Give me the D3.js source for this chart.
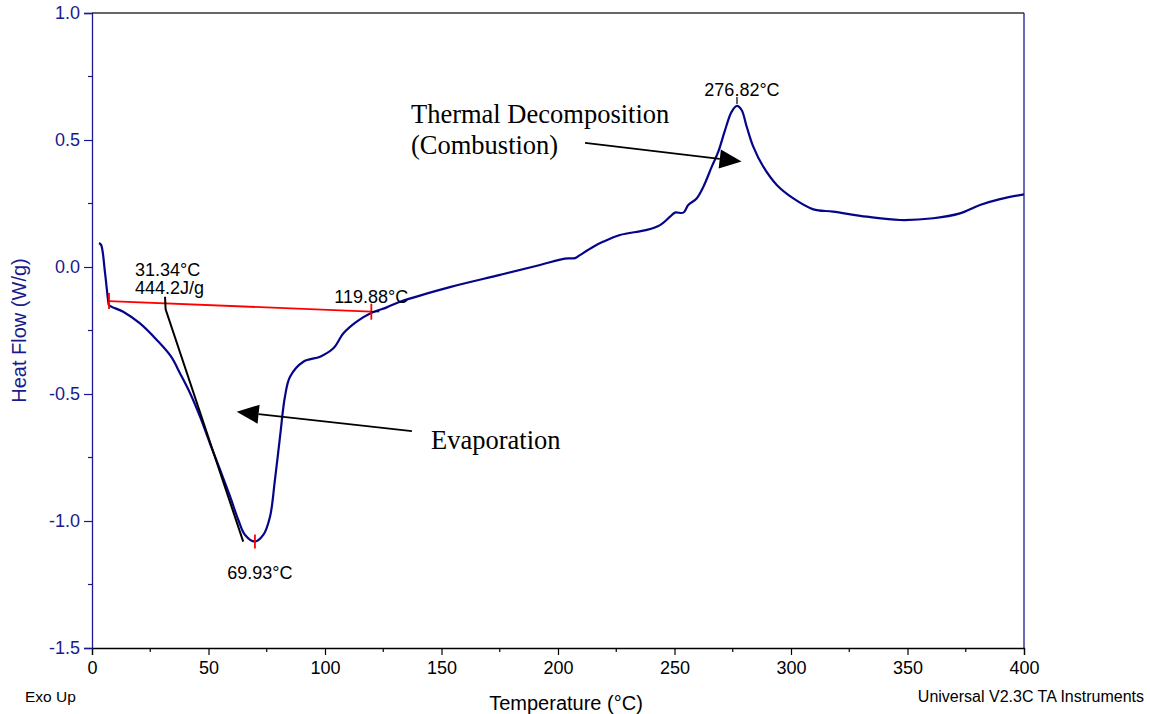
<!DOCTYPE html>
<html>
<head>
<meta charset="utf-8">
<script src="https://cdn.jsdelivr.net/npm/d3@7"></script>
<style>
  html, body { margin: 0; padding: 0; background: #fff; }
  svg { display: block; }
</style>
</head>
<body>
<svg id="chart" width="1150" height="714"></svg>
<script>
// DSC heat-flow trace: temperature (°C) and heat flow (W/g)
const temperature = [3.0, 3.9, 5.6, 7.0, 7.3, 13.4, 20.6, 27.8, 33.9, 37.8, 42.1, 46.4, 50.6, 55.0, 59.3, 62.8, 65.7,
  69.93, 73.5, 76.4, 78.5, 80.7, 82.8, 85.0, 90.7, 97.9, 103.6, 107.9, 113.6, 120.0, 126.5, 132.2, 153.6, 175.1,
  192.3, 203.0, 207.3, 209.4, 215.2, 219.5, 226.6, 238.1, 243.8, 248.1, 250.2, 253.8, 255.9, 259.5, 262.4, 266.0,
  268.8, 271.7, 274.5, 276.82, 278.8, 281.0, 283.8, 288.1, 293.9, 301.0, 309.6, 318.0, 332.5, 346.8, 361.1, 372.5,
  381.1, 389.7, 400.0];
const heatFlow = [0.094, 0.087, -0.024, -0.137, -0.150, -0.176, -0.222, -0.287, -0.352, -0.419, -0.497, -0.590,
  -0.694, -0.799, -0.904, -0.996, -1.055, -1.081, -1.055, -0.983, -0.839, -0.668, -0.511, -0.432, -0.373, -0.353,
  -0.320, -0.261, -0.215, -0.180, -0.159, -0.137, -0.079, -0.031, 0.008, 0.033, 0.035, 0.047, 0.080, 0.100, 0.126,
  0.146, 0.165, 0.198, 0.214, 0.214, 0.244, 0.270, 0.316, 0.395, 0.454, 0.539, 0.611, 0.634, 0.618, 0.552, 0.474,
  0.395, 0.323, 0.270, 0.227, 0.218, 0.198, 0.185, 0.192, 0.211, 0.244, 0.267, 0.286];

// Axis ticks
const xTicks = [0, 50, 100, 150, 200, 250, 300, 350, 400];
const xMinorTicks = [25, 75, 125, 175, 225, 275, 325, 375];
const yTicks = [-1.5, -1.0, -0.5, 0.0, 0.5, 1.0];
const yMinorTicks = [-1.25, -0.75, -0.25, 0.25, 0.75];

// Peak analysis results
const baselineT = [7.3, 119.88];
const baselineHF = [-0.134, -0.176];
const onsetT = [31.34, 31.6, 64.9];
const onsetHF = [-0.117, -0.167, -1.081];
const minPeak = { t: 69.93, hf: -1.081, label: "69.93°C" };
const maxPeak = { t: 276.82, hf: 0.634, label: "276.82°C" };
const onsetLabels = ["31.34°C", "444.2J/g"];
const endLabel = "119.88°C";

const W = 1150, H = 714;
const margin = { top: 13, right: 126, bottom: 66, left: 92 };
const iw = W - margin.left - margin.right;
const ih = H - margin.top - margin.bottom;

const navy = "#1a1a8e";
const curveColor = "#05058a";
const sans = "'Liberation Sans', Arial, sans-serif";
const serif = "'Liberation Serif', 'Times New Roman', serif";

const svg = d3.select("#chart");
const g = svg.append("g").attr("transform", `translate(${margin.left},${margin.top})`);

const x = d3.scaleLinear().domain([0, 400]).range([0, iw]);
const y = d3.scaleLinear().domain([-1.5, 1.0]).range([ih, 0]);

// Frame: top border and right axis
g.append("line").attr("x1", 0).attr("x2", iw).attr("y1", 0).attr("y2", 0)
  .attr("stroke", "#333").attr("stroke-width", 1.3);
g.append("line").attr("x1", iw).attr("x2", iw).attr("y1", 0).attr("y2", ih)
  .attr("stroke", navy).attr("stroke-width", 1.3);

// X axis
const xAxis = g.append("g").attr("transform", `translate(0,${ih})`)
  .call(d3.axisBottom(x).tickValues(xTicks).tickFormat(d3.format("d")).tickSize(7).tickPadding(6));
xAxis.select(".domain").attr("stroke", "#000").attr("stroke-width", 1.3);
xAxis.selectAll(".tick line").attr("stroke", "#000").attr("stroke-width", 1.2);
xAxis.selectAll(".tick text").attr("font-family", sans).attr("font-size", 18).attr("fill", "#000");
g.append("g").attr("transform", `translate(0,${ih})`)
  .selectAll("line").data(xMinorTicks).join("line")
  .attr("x1", d => x(d)).attr("x2", d => x(d)).attr("y1", 0).attr("y2", 4)
  .attr("stroke", "#000").attr("stroke-width", 1.2);

// Y axis
const yAxis = g.append("g")
  .call(d3.axisLeft(y).tickValues(yTicks).tickFormat(d => d.toFixed(1)).tickSize(8).tickPadding(4));
yAxis.select(".domain").attr("stroke", navy).attr("stroke-width", 1.3);
yAxis.selectAll(".tick line").attr("stroke", navy).attr("stroke-width", 1.2);
yAxis.selectAll(".tick text").attr("font-family", sans).attr("font-size", 18).attr("fill", navy);
g.append("g").selectAll("line").data(yMinorTicks).join("line")
  .attr("x1", -4).attr("x2", 0).attr("y1", d => y(d)).attr("y2", d => y(d))
  .attr("stroke", navy).attr("stroke-width", 1.2);

// Axis titles and footer text
svg.append("text").attr("transform", `translate(26,${margin.top + y(-0.25)}) rotate(-90)`)
  .attr("text-anchor", "middle").attr("font-family", sans).attr("font-size", 20).attr("fill", navy)
  .text("Heat Flow (W/g)");
svg.append("text").attr("x", 566).attr("y", 710).attr("text-anchor", "middle")
  .attr("font-family", sans).attr("font-size", 20).attr("fill", "#000").text("Temperature (°C)");
svg.append("text").attr("x", 25).attr("y", 702).attr("font-family", sans).attr("font-size", 15.5)
  .attr("fill", "#000").text("Exo Up");
svg.append("text").attr("x", 1144).attr("y", 702).attr("text-anchor", "end").attr("font-family", sans)
  .attr("font-size", 16).attr("fill", "#000").text("Universal V2.3C TA Instruments");

// Heat-flow curve
const pts = temperature.map((t, i) => [t, heatFlow[i]]);
const line = d3.line().x(d => x(d[0])).y(d => y(d[1])).curve(d3.curveCatmullRom.alpha(0.5));
g.append("path").datum(pts).attr("d", line).attr("fill", "none")
  .attr("stroke", curveColor).attr("stroke-width", 2.2).attr("stroke-linejoin", "round");

// Integration baseline (red) with end markers
const bl = baselineT.map((t, i) => [t, baselineHF[i]]);
g.append("path").datum(bl).attr("d", d3.line().x(d => x(d[0])).y(d => y(d[1])))
  .attr("stroke", "#ff0000").attr("stroke-width", 1.8).attr("fill", "none");
g.selectAll(".blTick").data(bl).join("line")
  .attr("x1", d => x(d[0])).attr("x2", d => x(d[0]))
  .attr("y1", d => y(d[1]) - 8).attr("y2", d => y(d[1]) + 8)
  .attr("stroke", "#ff0000").attr("stroke-width", 1.8);
g.append("line").attr("x1", x(baselineT[1])).attr("x2", x(baselineT[1]) + 8)
  .attr("y1", y(baselineHF[1])).attr("y2", y(baselineHF[1]))
  .attr("stroke", "#000").attr("stroke-width", 1.2);

// Onset tangent (black)
const onset = onsetT.map((t, i) => [t, onsetHF[i]]);
g.append("path").datum(onset).attr("d", d3.line().x(d => x(d[0])).y(d => y(d[1])))
  .attr("stroke", "#000").attr("stroke-width", 2).attr("fill", "none");

// Minimum marker
g.append("line").attr("x1", x(minPeak.t)).attr("x2", x(minPeak.t))
  .attr("y1", y(minPeak.hf) - 7).attr("y2", y(minPeak.hf) + 7)
  .attr("stroke", "#ff0000").attr("stroke-width", 1.8);
// Maximum marker
g.append("line").attr("x1", x(maxPeak.t)).attr("x2", x(maxPeak.t))
  .attr("y1", y(maxPeak.hf) - 9).attr("y2", y(maxPeak.hf) - 2)
  .attr("stroke", "#000").attr("stroke-width", 1.2);

// Value labels
const lab = (tx, ty, txt, anchor) => g.append("text").attr("x", tx).attr("y", ty)
  .attr("text-anchor", anchor || "start").attr("font-family", sans).attr("font-size", 18)
  .attr("fill", "#000").text(txt);
lab(x(minPeak.t) + 5, y(minPeak.hf) + 37, minPeak.label, "middle");
lab(x(maxPeak.t) + 5, y(maxPeak.hf) - 10, maxPeak.label, "middle");
lab(x(onsetT[0]) - 30, y(onsetHF[0]) - 21, onsetLabels[0]);
lab(x(onsetT[0]) - 30, y(onsetHF[0]) - 3, onsetLabels[1]);
lab(x(baselineT[1]) - 37, y(baselineHF[1]) - 9, endLabel);

// Annotation arrows
function arrow(t0, h0, t1, h1) {
  const x0 = x(t0), y0 = y(h0), x1 = x(t1), y1 = y(h1);
  const a = Math.atan2(y1 - y0, x1 - x0);
  const len = 22, half = 9.5;
  const bx = x1 - len * Math.cos(a), by = y1 - len * Math.sin(a);
  g.append("line").attr("x1", x0).attr("y1", y0).attr("x2", bx).attr("y2", by)
    .attr("stroke", "#000").attr("stroke-width", 1.8);
  const p = [[x1, y1],
    [bx + half * Math.sin(a), by - half * Math.cos(a)],
    [bx - half * Math.sin(a), by + half * Math.cos(a)]];
  g.append("polygon").attr("points", p.map(q => q.join(",")).join(" ")).attr("fill", "#000");
}
arrow(211.6, 0.489, 278.8, 0.415);
arrow(137.3, -0.646, 62.1, -0.570);

const note = (t, h, txt) => g.append("text").attr("x", x(t)).attr("y", y(h))
  .attr("font-family", serif).attr("font-size", 26.5).attr("fill", "#000").text(txt);
note(136.9, 0.567, "Thermal Decomposition");
note(136.9, 0.445, "(Combustion)");
note(145.5, -0.717, "Evaporation");
</script>
</body>
</html>
